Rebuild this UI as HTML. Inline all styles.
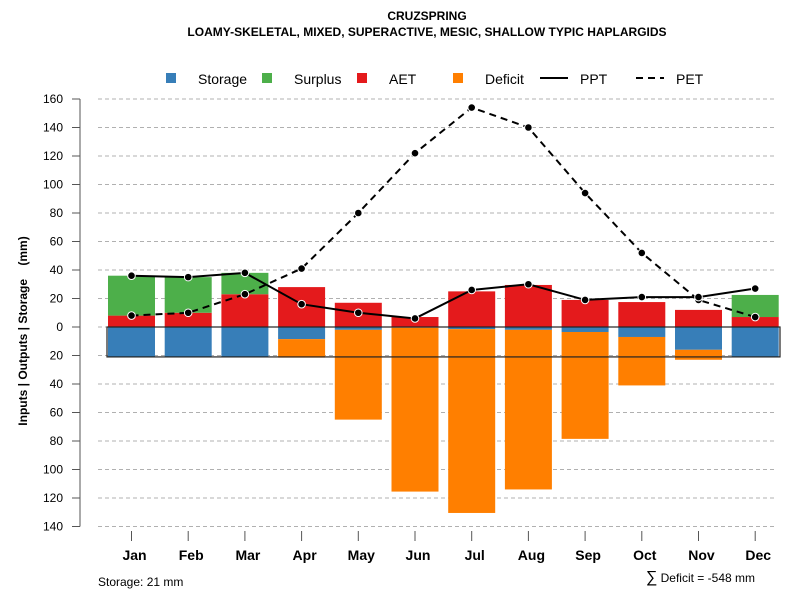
<!DOCTYPE html>
<html><head><meta charset="utf-8"><style>
body{margin:0;background:#fff}
text{font-family:"Liberation Sans",sans-serif}
</style></head><body>
<svg id="chart" width="800" height="600" xmlns="http://www.w3.org/2000/svg">
<text x="427" y="20" text-anchor="middle" font-size="12" font-weight="bold">CRUZSPRING</text>
<text x="427" y="36" text-anchor="middle" font-size="12" font-weight="bold">LOAMY-SKELETAL, MIXED, SUPERACTIVE, MESIC, SHALLOW TYPIC HAPLARGIDS</text>
<g id="legend">
<rect x="166" y="73" width="10" height="10" fill="#377EB8"/>
<text x="198" y="84" font-size="14">Storage</text>
<rect x="262" y="73" width="10" height="10" fill="#4DAF4A"/>
<text x="294" y="84" font-size="14">Surplus</text>
<rect x="357" y="73" width="10" height="10" fill="#E41A1C"/>
<text x="389" y="84" font-size="14">AET</text>
<rect x="453" y="73" width="10" height="10" fill="#FF7F00"/>
<text x="485" y="84" font-size="14">Deficit</text>
<line x1="540" y1="78" x2="568" y2="78" stroke="#000" stroke-width="2"/>
<text x="580" y="84" font-size="14">PPT</text>
<line x1="636" y1="78" x2="664" y2="78" stroke="#000" stroke-width="2" stroke-dasharray="7,5"/>
<text x="676" y="84" font-size="14">PET</text>
</g>
<text transform="translate(27,331) rotate(-90)" text-anchor="middle" font-size="12" font-weight="bold" xml:space="preserve">Inputs | Outputs | Storage    (mm)</text>
<text x="98" y="586" font-size="12">Storage: 21 mm</text>
<text x="755" y="582" text-anchor="end" font-size="12"><tspan font-size="16">∑</tspan> Deficit = -548 mm</text>
<g id="plot"></g>
</svg>
<script>
const months=["Jan","Feb","Mar","Apr","May","Jun","Jul","Aug","Sep","Oct","Nov","Dec"];
const storageBelow=[21,21,21,8.5,2,0.5,1.5,2,3.5,7,16,21];
const deficit=[0,0,0,13,63,115,129,112,75,34,7,0];
const aet=[8,10,23,28,17,7,25,29.5,19,17.5,12,7];
const surplus=[28,25,15,0,0,0,0,0,0,0,0,15.5];
const ppt=[36,35,38,16,10,6,26,30,19,21,21,27];
const pet=[8,10,23,41,80,122,154,140,94,52,19,7];
const yTicks=[160,140,120,100,80,60,40,20,0,-20,-40,-60,-80,-100,-120,-140];
const maxStorage=21;

const NS="http://www.w3.org/2000/svg";
const g=document.getElementById("plot");
function y(v){return 327-v*1.425;}
function x(i){return 131.5+i*56.7;}
function mk(tag,attrs){const e=document.createElementNS(NS,tag);for(const k in attrs)e.setAttribute(k,attrs[k]);g.appendChild(e);return e;}

yTicks.forEach(t=>{
  const gl=mk("line",{x1:98,x2:775,y1:y(t),y2:y(t),stroke:"#b0b0b0","stroke-dasharray":"4,3"});
  
  
  const tk=mk("line",{x1:72,x2:80,y1:y(t),y2:y(t),stroke:"#555"});
  
  
  const tl=mk("text",{x:63,y:y(t)+4,"text-anchor":"end","font-size":"12"});
  tl.textContent=Math.abs(t);
  
  
});
const ax=mk("line",{x1:80,x2:80,y1:y(160),y2:y(-140),stroke:"#555"});



const bw=47;
months.forEach((m,i)=>{
  const cx=x(i);
  const sb=mk("rect",{x:cx-bw/2,y:y(0),width:bw,height:storageBelow[i]*1.425,fill:"#377EB8"});
  
  
  const db=mk("rect",{x:cx-bw/2,y:y(-storageBelow[i]),width:bw,height:deficit[i]*1.425,fill:"#FF7F00"});
  
  
  const ab=mk("rect",{x:cx-bw/2,y:y(aet[i]),width:bw,height:aet[i]*1.425,fill:"#E41A1C"});
  
  
  const sp=mk("rect",{x:cx-bw/2,y:y(aet[i]+surplus[i]),width:bw,height:surplus[i]*1.425,fill:"#4DAF4A"});
  
  
  const xt=mk("line",{x1:cx,x2:cx,y1:531,y2:541,stroke:"#555"});
  
  
  const xl=mk("text",{x:cx+3,y:560,"text-anchor":"middle","font-size":"14","font-weight":"bold"});
  xl.textContent=m;
  
  
});
const sbox=mk("rect",{x:107,y:y(0),width:673,height:maxStorage*1.425,fill:"none",stroke:"#222","stroke-width":1.2});



function series(vals,dash,name){
  const p=mk("polyline",{points:vals.map((v,i)=>x(i)+","+y(v)).join(" "),fill:"none",stroke:"#000","stroke-width":2,"stroke-dasharray":dash});
  
  
  vals.forEach((v,i)=>{
    const c=mk("circle",{cx:x(i),cy:y(v),r:3.8,fill:"#000",stroke:"#fff","stroke-width":1});
    
    
  });
}
series(pet,"7,5","pet");
series(ppt,"none","ppt");
</script>
</body></html>
